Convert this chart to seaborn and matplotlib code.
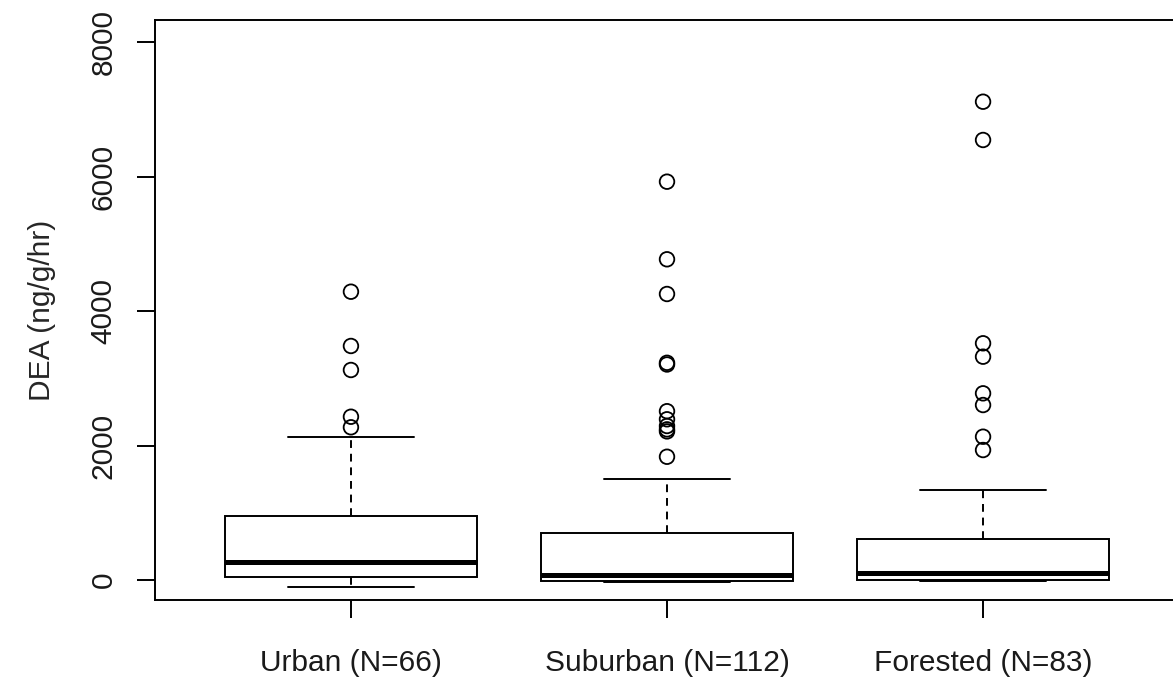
import numpy as np
import pandas as pd
import seaborn as sns
import matplotlib.pyplot as plt

# ---------------- data ----------------
groups = ["Urban (N=66)", "Suburban (N=112)", "Forested (N=83)"]

# five-number summaries: lower whisker, Q1, median, Q3, upper whisker
urban_box = [-109, 45, 263, 952, 2128]
suburban_box = [-28, -10, 75, 699, 1502]
forested_box = [-15, 5, 104, 610, 1338]

# points beyond the whiskers
urban_out = [2271, 2428, 3123, 3480, 4287]
suburban_out = [1833, 2210, 2240, 2290, 2390, 2510, 3205, 3230, 4253, 4769, 5923]
forested_out = [1933, 2131, 2602, 2776, 3321, 3520, 6543, 7112]

y_ticks = [0, 2000, 4000, 6000, 8000]

box_df = pd.DataFrame({
    "site": [groups[0]] * len(urban_box) + [groups[1]] * len(suburban_box) + [groups[2]] * len(forested_box),
    "dea": urban_box + suburban_box + forested_box,
})
out_df = pd.DataFrame({
    "site": [groups[0]] * len(urban_out) + [groups[1]] * len(suburban_out) + [groups[2]] * len(forested_out),
    "dea": urban_out + suburban_out + forested_out,
})

# ---------------- plot ----------------
sns.set_style("white")
plt.rcParams["font.family"] = ["Liberation Sans", "DejaVu Sans"]

fig = plt.figure(figsize=(11.73, 6.81), dpi=100)
ax = fig.add_axes([155 / 1173, 81 / 681, 1024 / 1173, 580 / 681])

lw = 1.4
sns.boxplot(data=box_df, x="site", y="dea", order=groups, ax=ax,
            whis=(0, 100), width=0.8, color="white", linecolor="black",
            linewidth=lw, showfliers=False,
            whiskerprops=dict(linestyle=(0, (4, 3)), linewidth=lw),
            medianprops=dict(linewidth=3.6, color="black"),
            capprops=dict(linewidth=lw))

sns.stripplot(data=out_df, x="site", y="dea", order=groups, ax=ax,
              jitter=False, marker="o", size=10.5, color="white",
              edgecolor="black", linewidth=1.3, zorder=5)
for coll in ax.collections:
    coll.set_facecolor("none")

ax.set_xlim(-0.62, 2.62)
ax.set_ylim(-297, 8327)
ax.set_yticks(y_ticks)
ax.set_yticklabels([str(v) for v in y_ticks], rotation=90, va="center")
ax.set_xlabel("")
ax.set_ylabel("DEA (ng/g/hr)", fontsize=21.5, labelpad=24)

ax.tick_params(axis="both", direction="out", length=13, width=lw,
               color="black", labelsize=21.5, labelcolor="#1a1a1a")
ax.tick_params(axis="x", pad=22)
ax.tick_params(axis="y", pad=14, left=True)
ax.tick_params(axis="x", bottom=True)

for side in ["left", "right", "top", "bottom"]:
    ax.spines[side].set_visible(True)
    ax.spines[side].set_color("black")
    ax.spines[side].set_linewidth(lw)

fig.savefig("out.png", dpi=100, facecolor="white")
